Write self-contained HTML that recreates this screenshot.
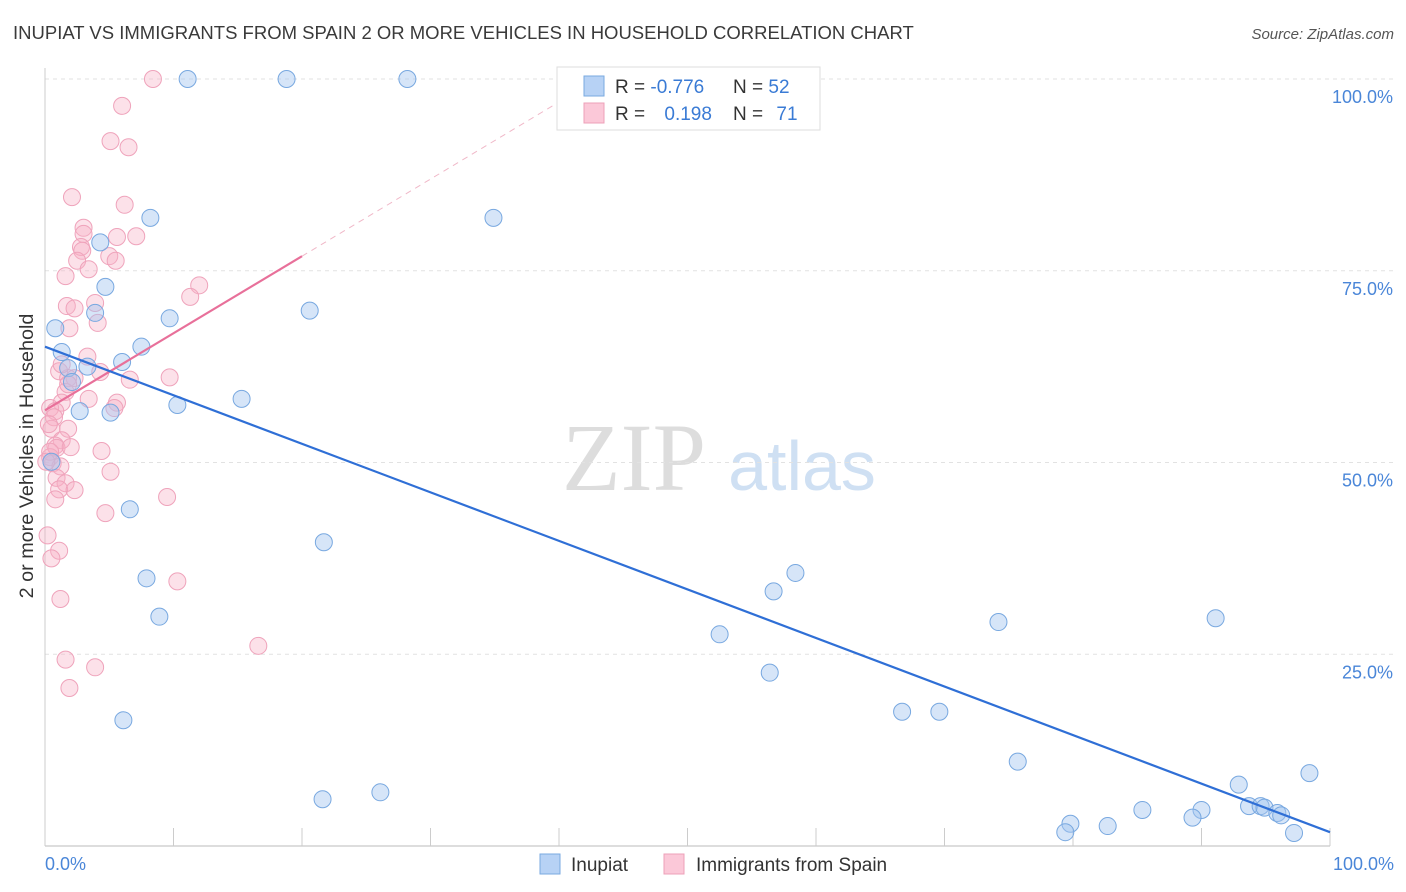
<!DOCTYPE html>
<html><head><meta charset="utf-8"><style>
body{margin:0;background:#fff;font-family:"Liberation Sans",sans-serif;}
svg{display:block}
</style></head><body>
<svg id="chart" width="1406" height="892" xmlns="http://www.w3.org/2000/svg" font-family="Liberation Sans, sans-serif">
<text x="13" y="39" font-size="18.5" fill="#3a3a3a">INUPIAT VS IMMIGRANTS FROM SPAIN 2 OR MORE VEHICLES IN HOUSEHOLD CORRELATION CHART</text>
<text x="1394" y="39" font-size="15" fill="#555" font-style="italic" text-anchor="end">Source: ZipAtlas.com</text>
<g>
<text x="634" y="490" font-size="96" fill="#ddd" font-family="Liberation Serif, serif" text-anchor="middle">ZIP</text>
<text x="802" y="490" font-size="70" fill="#cfe0f3" text-anchor="middle">atlas</text>
</g>
<g id="grid"></g>
<g id="axes"></g>
<g id="marks"></g>
<text transform="translate(33,456) rotate(-90)" font-size="19.8" fill="#333" text-anchor="middle">2 or more Vehicles in Household</text>
<g>
<rect x="557" y="67" width="263" height="63" fill="#fff" stroke="#ddd"/>
<rect x="584" y="76" width="20" height="20" fill="#b7d2f5" stroke="#7aaae0"/>
<rect x="584" y="103" width="20" height="20" fill="#fbc8d8" stroke="#eea0b8"/>
<text x="615" y="93" font-size="19" fill="#333">R = <tspan fill="#3a7bd5">-0.776</tspan></text>
<text x="733" y="93" font-size="19" fill="#333">N = <tspan fill="#3a7bd5">52</tspan></text>
<text x="615" y="120" font-size="19" fill="#333">R = <tspan fill="#3a7bd5" dx="14">0.198</tspan></text>
<text x="733" y="120" font-size="19" fill="#333">N = <tspan fill="#3a7bd5" dx="8">71</tspan></text>
</g>
<g>
<rect x="540" y="854" width="20" height="20" fill="#b7d2f5" stroke="#7aaae0"/>
<text x="571" y="871" font-size="19" fill="#333">Inupiat</text>
<rect x="664" y="854" width="20" height="20" fill="#fbc8d8" stroke="#eea0b8"/>
<text x="696" y="871" font-size="19" fill="#333">Immigrants from Spain</text>
</g>
</svg>
<script>
const yTicks=[25,50,75,100];
const yTickLabels=["25.0%","50.0%","75.0%","100.0%"];
const blueX=[11.1,18.8,28.2,8.2,34.9,4.3,4.7,0.8,3.9,20.6,9.7,1.3,7.5,6.0,1.8,3.3,2.1,10.3,15.3,2.7,5.1,0.5,6.6,21.7,7.9,8.9,58.4,56.7,52.5,74.2,91.1,56.4,6.1,66.7,69.6,75.7,21.6,26.1,92.9,98.4,85.4,90.0,89.3,93.7,94.6,94.9,95.9,96.2,79.8,79.4,82.7,97.2];
const blueY=[100,100,100,81.9,81.9,78.7,72.9,67.5,69.5,69.8,68.8,64.4,65.1,63.1,62.3,62.5,60.5,57.5,58.3,56.7,56.5,50.1,43.9,39.6,34.9,29.9,35.6,33.2,27.6,29.2,29.7,22.6,16.4,17.5,17.5,11.0,6.1,7.0,8.0,9.5,4.7,4.7,3.7,5.2,5.2,5.0,4.3,4.0,2.9,1.8,2.6,1.7];
const pinkX=[8.4,6.0,5.1,6.5,2.1,6.2,3.0,3.0,5.6,7.1,2.8,2.9,5.0,5.5,2.5,3.4,1.6,12.0,11.3,3.9,1.7,2.3,4.1,1.9,3.3,1.1,4.3,1.8,2.3,9.7,6.6,1.6,3.4,1.3,5.6,5.4,0.4,0.8,0.7,1.8,0.5,1.3,0.8,0.9,4.4,0.4,0.6,1.2,5.1,0.9,1.6,1.1,2.3,9.5,0.8,4.7,0.2,1.1,0.5,10.3,1.2,16.6,1.6,3.9,1.9,1.3,0.4,1.8,0.1,2.0,0.3];
const pinkY=[100,96.5,91.9,91.1,84.6,83.6,80.6,79.8,79.4,79.5,78.1,77.6,76.9,76.3,76.3,75.2,74.3,73.1,71.6,70.8,70.4,70.1,68.2,67.5,63.8,61.9,61.8,61.0,61.0,61.1,60.8,59.2,58.3,57.8,57.8,57.1,57.1,56.7,55.9,54.4,54.4,52.9,52.2,51.9,51.5,50.7,49.9,49.5,48.8,48.0,47.3,46.5,46.4,45.5,45.2,43.4,40.5,38.5,37.5,34.5,32.2,26.1,24.3,23.3,20.6,62.8,51.4,60.2,50.1,52.0,55.0];
const blueTrend=[65.1,1.8];
const pinkTrend=[56.8,76.9];
const NS="http://www.w3.org/2000/svg";
const xs=v=>45+v*12.85, ys=v=>846-v*7.67;
function mk(tag,attrs,parent){const e=document.createElementNS(NS,tag);for(const k in attrs)e.setAttribute(k,attrs[k]);document.getElementById(parent).appendChild(e);return e;}
yTicks.forEach((t,i)=>{
 const g=mk('line',{x1:45,x2:1394,y1:ys(t),y2:ys(t),stroke:'#e2e2e2','stroke-dasharray':'4,4'},'grid');
 
 
 const l=mk('text',{x:1393,y:ys(t)+24,'font-size':18,fill:'#4a86d8','text-anchor':'end'},'axes');
 l.textContent=yTickLabels[i];
 
 
});
const ax=mk('line',{x1:45,x2:1330,y1:846,y2:846,stroke:'#bbb'},'axes');


const ay=mk('line',{x1:45,x2:45,y1:68,y2:846,stroke:'#ccc'},'axes');


for(let i=0;i<=10;i++){const t=mk('line',{x1:xs(i*10),x2:xs(i*10),y1:828,y2:846,stroke:'#ccc'},'axes');
 
 }
[[0,'0.0%','start',45],[100,'100.0%','end',1394]].forEach(a=>{const t=mk('text',{x:a[3],y:870,'font-size':18,fill:'#4a86d8','text-anchor':a[2]},'axes');t.textContent=a[1];
 
 });
pinkX.forEach((x,i)=>{const c=mk('circle',{cx:xs(x),cy:ys(pinkY[i]),r:8.5,fill:'rgba(246,175,198,0.38)',stroke:'#efa3bb','stroke-width':1},'marks');
 
 });
blueX.forEach((x,i)=>{const c=mk('circle',{cx:xs(x),cy:ys(blueY[i]),r:8.5,fill:'rgba(165,198,240,0.45)',stroke:'#78a8e0','stroke-width':1},'marks');
 
 });
const slope=(pinkTrend[1]-pinkTrend[0])/20;
const xEnd=(100-pinkTrend[0])/slope;
const pd=mk('line',{x1:xs(20),y1:ys(pinkTrend[1]),x2:xs(xEnd),y2:ys(100),stroke:'#f0b8c8','stroke-dasharray':'6,5','stroke-width':1},'marks');


const pl=mk('line',{x1:xs(0),y1:ys(pinkTrend[0]),x2:xs(20),y2:ys(pinkTrend[1]),stroke:'#e8709a','stroke-width':2.2},'marks');


const bl=mk('line',{x1:xs(0),y1:ys(blueTrend[0]),x2:xs(100),y2:ys(blueTrend[1]),stroke:'#2f6fd6','stroke-width':2.2},'marks');


</script>
</body></html>
